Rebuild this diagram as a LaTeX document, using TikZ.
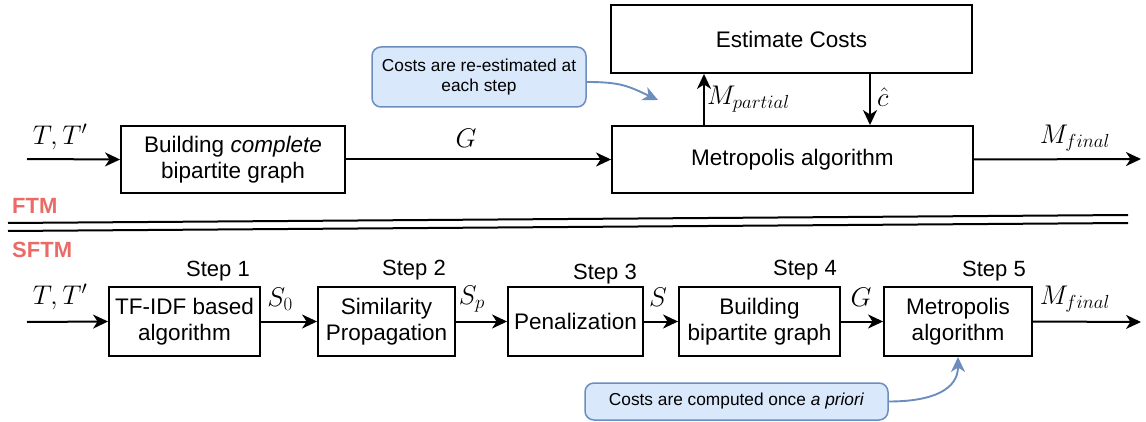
\RequirePackage{fix-cm}
\documentclass[tikz,border=0pt]{standalone}
\usepackage{fontspec}
\setmainfont{Liberation Sans}
\usetikzlibrary{arrows.meta,calc}
\definecolor{cfill}{HTML}{DAE8FC}
\definecolor{cdraw}{HTML}{6C8EBF}
\definecolor{lblred}{HTML}{EA6B66}
\tikzset{
  blk/.style={draw, line width=1.9pt, align=center, inner sep=0pt,
    font=\fontsize{22.5}{26}\selectfont},
  arr/.style={line width=2pt, -{Stealth[length=15pt,width=14pt,inset=4.5pt]}},
  barr/.style={line width=1.9pt, draw=cdraw, -{Stealth[length=15pt,width=14pt,inset=4.5pt,fill=cdraw]}},
  callout/.style={draw=cdraw, fill=cfill, line width=1.5pt, rounded corners=9pt,
    align=center, inner sep=0pt, font=\fontsize{17.3}{20.5}\selectfont},
  mlbl/.style={inner sep=0pt, font=\fontsize{27}{31}\selectfont},
  steplbl/.style={inner sep=0pt, font=\fontsize{22}{26}\selectfont},
  sect/.style={inner sep=0pt, anchor=west, text=lblred, font=\fontsize{22}{26}\selectfont\bfseries},
  dbl/.style={line width=2pt}
}
\begin{document}
\begin{tikzpicture}[x=1pt,y=-1pt]
\useasboundingbox (0,0) rectangle (1146,422);
% ---------- FTM (top) ----------
\coordinate (in1) at (27,159);
\coordinate (out1) at (1141,159);
\node[blk, minimum width=224pt, minimum height=67pt] (b1) at (233,159.5)
  {Building \textit{complete}\\bipartite graph};
\node[blk, minimum width=361pt, minimum height=67pt] (metro) at (792.5,159.5)
  {Metropolis algorithm};
\node[blk, minimum width=361pt, minimum height=68pt] (est) at (791.5,39)
  {Estimate Costs};
\coordinate (mp) at (704,0);
\coordinate (ch) at (870,0);
\draw[arr] (in1) -- (b1.west);
\draw[arr] (b1.east) -- (metro.west);
\draw[arr] (mp |- metro.north) -- (mp |- est.south);
\draw[arr] (ch |- est.south) -- (ch |- metro.north);
\draw[arr] (metro.east) -- (out1);
\node[mlbl] (lt1) at (60,137) {$T,T'$};
\node[mlbl] (lg1) at (466,138) {$G$};
\node[mlbl, anchor=west] (lmp) at (707,99) {$M_{partial}$};
\node[mlbl, anchor=west] (lch) at (877,97) {$\hat{c}$};
\node[mlbl] (lmf1) at (1075,138) {$M_{final}$};
\node[callout, minimum width=214pt, minimum height=60pt] (c1) at (479,77)
  {Costs are re-estimated at\\each step};
\coordinate (t1) at (658,100);
\draw[barr] ($(c1.east)+(0,5)$) .. controls +(34,0) and +(-30,-14) .. (t1);
% ---------- separator ----------
\node[sect] (ftm) at (12,206) {FTM};
\node[sect] (sftm) at (12,250) {SFTM};
\coordinate (l1a) at (8,223); \coordinate (l1b) at (1128,215);
\coordinate (l2a) at (8,231); \coordinate (l2b) at (1128,223);
\draw[dbl] (l1a) -- (l1b);
\draw[dbl] (l2a) -- (l2b);
% ---------- SFTM (bottom) ----------
\coordinate (in2) at (27,322);
\coordinate (out2) at (1141,322);
\node[blk, minimum width=151pt, minimum height=69pt] (s1) at (184.5,321.5)
  {TF-IDF based\\algorithm};
\node[blk, minimum width=137pt, minimum height=69pt] (s2) at (386.5,321.5)
  {Similarity\\Propagation};
\node[blk, minimum width=135pt, minimum height=69pt] (s3) at (575.5,321.5)
  {Penalization};
\node[blk, minimum width=161pt, minimum height=69pt] (s4) at (759.5,321.5)
  {Building\\bipartite graph};
\node[blk, minimum width=148pt, minimum height=69pt] (s5) at (958,321.5)
  {Metropolis\\algorithm};
\draw[arr] (in2) -- (s1.west);
\draw[arr] (s1.east) -- (s2.west);
\draw[arr] (s2.east) -- (s3.west);
\draw[arr] (s3.east) -- (s4.west);
\draw[arr] (s4.east) -- (s5.west);
\draw[arr] (s5.east) -- (out2);
\node[steplbl] (st1) at (218,271) {Step 1};
\node[steplbl] (st2) at (414,270) {Step 2};
\node[steplbl] (st3) at (605,274) {Step 3};
\node[steplbl] (st4) at (805,270) {Step 4};
\node[steplbl] (st5) at (994,271) {Step 5};
\node[mlbl] (lt2) at (60,297) {$T,T'$};
\node[mlbl] (ls0) at (280,299) {$S_0$};
\node[mlbl] (lsp) at (472,299) {$S_p$};
\node[mlbl] (ls) at (658,297) {$S$};
\node[mlbl] (lg2) at (861,297) {$G$};
\node[mlbl] (lmf2) at (1075,299) {$M_{final}$};
\node[callout, minimum width=303pt, minimum height=37pt] (c2) at (736.5,401.5)
  {Costs are computed once \textit{a priori}};
\draw[barr] (c2.east) .. controls +(45,0) and +(0,32) .. (s5.south);
\end{tikzpicture}
\end{document}
